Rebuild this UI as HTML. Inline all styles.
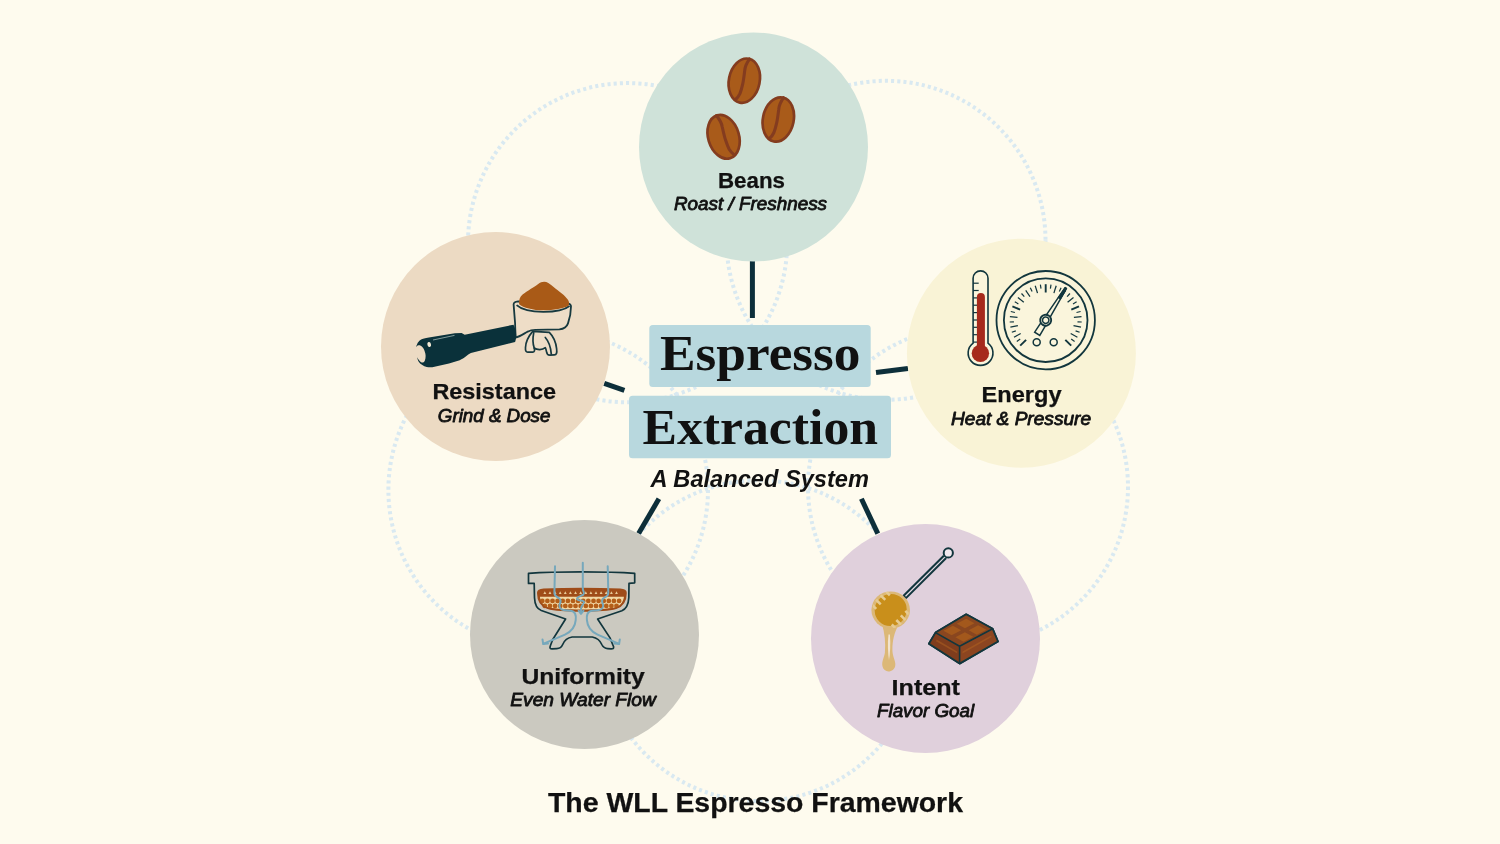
<!DOCTYPE html>
<html lang="en">
<head>
<meta charset="utf-8">
<title>The WLL Espresso Framework</title>
<style>
  html, body { margin: 0; padding: 0; background: #fefbee; }
  body { width: 1500px; height: 844px; overflow: hidden; font-family: "Liberation Sans", sans-serif; }
  svg { display: block; will-change: transform; }
  .sans { font-family: "Liberation Sans", sans-serif; }
  .serif { font-family: "Liberation Serif", serif; }
  .lbl { font-family: "Liberation Sans", sans-serif; font-weight: bold; fill: #111; stroke: #111; stroke-width: 0.25px; }
  .sub { font-family: "Liberation Sans", sans-serif; font-style: italic; fill: #111; stroke: #111; stroke-width: 0.8px; stroke-linejoin: round; }
</style>
</head>
<body>
<svg width="1500" height="844" viewBox="0 0 1500 844">
  <rect x="0" y="0" width="1500" height="844" fill="#fefbee"/>

  <!-- dotted background circles -->
  <g fill="none" stroke="#d9e9f1" stroke-width="4" stroke-dasharray="3.1 3.1">
    <circle cx="627.6" cy="242.7" r="159.6"/>
    <circle cx="886" cy="240.3" r="159.5"/>
    <circle cx="548.2" cy="490" r="159.8"/>
    <circle cx="968" cy="487" r="160"/>
    <circle cx="758.8" cy="640.7" r="160.4"/>
  </g>

  <!-- connectors -->
  <g stroke="#0d2f3a" stroke-width="5" stroke-linecap="butt" fill="none">
    <line x1="752.4" y1="258" x2="752.4" y2="318"/>
    <line x1="604.2" y1="383.3" x2="624.4" y2="390.4"/>
    <line x1="876" y1="372.4" x2="908" y2="368.5"/>
    <line x1="658.9" y1="498.8" x2="638.6" y2="533.6"/>
    <line x1="861.4" y1="498.8" x2="877.8" y2="533.6"/>
  </g>

  <!-- main circles -->
  <circle cx="753.5" cy="147" r="114.5" fill="#cfe2d9"/>
  <circle cx="495.5" cy="346.5" r="114.5" fill="#ecdac3"/>
  <circle cx="1021.4" cy="353.2" r="114.5" fill="#f9f3d6"/>
  <circle cx="584.5" cy="634.5" r="114.5" fill="#cbc9c0"/>
  <circle cx="925.5" cy="638.5" r="114.5" fill="#e0d0dc"/>

  <!-- title boxes -->
  <rect x="649.3" y="324.9" width="221.4" height="62.2" rx="3.5" fill="#b8d8de"/>
  <rect x="629" y="395.7" width="262" height="62.6" rx="3.5" fill="#b8d8de"/>
  <text class="serif" x="660" y="369.5" font-size="50" font-weight="bold" fill="#111" textLength="200.5" lengthAdjust="spacingAndGlyphs">Espresso</text>
  <text class="serif" x="642.5" y="444.2" font-size="50" font-weight="bold" fill="#111" textLength="235.5" lengthAdjust="spacingAndGlyphs">Extraction</text>
  <text class="sans" x="650.6" y="486.8" font-size="24.2" font-style="italic" font-weight="bold" fill="#111" textLength="218.4" lengthAdjust="spacingAndGlyphs">A Balanced System</text>

  <!-- ICONS -->
  <g id="icon-beans">
    <g transform="translate(744.3 80.7) rotate(11.5)">
      <ellipse cx="0" cy="0" rx="15.4" ry="22.4" fill="#a95b1a" stroke="#843c1f" stroke-width="2.7"/>
      <path d="M 0.8 -22.4 C -1.5 -17 -2 -13 -1.6 -10 C -1.2 -5 -0.8 0 -0.9 3.7 C -1 8 -1.2 11 -1.7 13.6 C -2.4 16.5 -3.5 18.5 -4.6 19.9" fill="none" stroke="#843c1f" stroke-width="3.1" stroke-linecap="round"/>
    </g>
    <g transform="translate(778.3 119.5) rotate(11.5)">
      <ellipse cx="0" cy="0" rx="15.4" ry="22.4" fill="#a95b1a" stroke="#843c1f" stroke-width="2.7"/>
      <path d="M 0.8 -22.4 C -1.5 -17 -2 -13 -1.6 -10 C -1.2 -5 -0.8 0 -0.9 3.7 C -1 8 -1.2 11 -1.7 13.6 C -2.4 16.5 -3.5 18.5 -4.6 19.9" fill="none" stroke="#843c1f" stroke-width="3.1" stroke-linecap="round"/>
    </g>
    <g transform="translate(723.6 136.8) rotate(-17)">
      <ellipse cx="0" cy="0" rx="15.4" ry="22.4" fill="#a95b1a" stroke="#843c1f" stroke-width="2.7"/>
      <path d="M -0.8 -22.4 C 1.5 -17 2 -13 1.6 -10 C 1.2 -5 0.8 0 0.9 3.7 C 1 8 1.2 11 1.7 13.6 C 2.4 16.5 3.5 18.5 4.6 19.9" fill="none" stroke="#843c1f" stroke-width="3.1" stroke-linecap="round"/>
    </g>
  </g>
  <g id="icon-portafilter">
    <path d="M 518.1 301.4 C515.1 301.7 513.6 302.7 513.6 304.4 L515.1 323.4 C515.1 327.4 515.6 333.4 515.6 337.5 C520.1 336.5 524.1 333.4 528.2 331.4 C530.2 330.2 532.2 329.9 535.2 329.9 L559.4 329.4 C564.4 328.9 567.0 326.4 568.0 323.4 C570.0 317.3 571.0 311.3 571.0 306.4 C571.0 305.0 570.0 304.2 568.5 303.7 Z" fill="#eeddc7" stroke="#17393f" stroke-width="1.8" stroke-linejoin="round"/>
    <path d="M 516.6 305.2 C521.1 309.3 531.2 311.8 543.3 311.8 C555.4 311.8 565.5 309.3 569.5 306.0" fill="none" stroke="#17393f" stroke-width="1.8"/>
    <path d="M 519.1 304.2 C518.6 300.2 520.1 296.7 522.6 294.6 C527.2 291.1 534.2 287.1 538.2 284.1 C541.3 281.5 545.3 281.0 548.3 283.1 C552.4 285.6 555.4 288.6 557.4 290.1 C561.4 293.1 566.5 297.2 568.5 300.7 C569.5 302.7 569.0 304.7 568.3 305.7 C564.4 308.2 553.4 310.3 543.3 310.3 C533.2 310.3 523.1 307.7 519.1 304.2 Z" fill="#a95a17"/>
    <g fill="#eeddc7" stroke="#17393f" stroke-width="1.7" stroke-linejoin="round" stroke-linecap="round">
      <path d="M 532.7 331.4 C529.2 335.5 525.7 341.5 525.5 347.5 C525.2 351.1 526.2 352.1 527.7 352.1 L532.7 352.1 C534.4 352.1 535.0 350.6 534.2 348.0 C537.2 350.1 542.3 350.1 545.3 347.7 C545.8 348.6 546.1 349.6 546.5 351.6 C546.8 353.6 547.8 355.1 549.8 355.1 L554.4 354.8 C556.4 354.8 557.2 353.1 556.6 348.6 C555.9 342.5 553.4 336.5 549.3 332.4 Z" />
      <path d="M 534.2 348.0 C533.0 344.5 532.4 339.5 533.7 332.9" fill="none"/>
      <path d="M 545.3 337.5 C548.8 341.5 550.8 347.5 551.3 354.1" fill="none"/>
    </g>
    <path d="M 513.5 324.7 L 464.7 334.7 L 461.6 332.9 L 454.8 333.2 L 428.9 337.5 C 425 338.2 422.5 338.8 421.1 339.5 C 419 340.8 417.8 342.5 417.2 343.9 C 416.6 345 416.2 346.2 416.0 347.3 C 416.8 346 417.6 345.5 418.4 345.3 C 420 345.2 421.3 345.8 422.3 347 C 423.6 348.4 424.4 350 424.8 351.7 C 425.4 353.2 425.7 354.8 425.6 356.2 C 425.6 357.8 425.4 359.3 424.8 360.7 C 424.3 361.7 423.5 362.4 422.5 362.6 C 421.3 362.4 420.3 361.7 419.5 360.7 C 418.5 359.7 417.7 358.6 417.1 357.3 C 417.3 358.8 417.8 360.1 418.4 361.2 C 419.4 362.8 420.7 364.1 422.3 365.1 C 423.6 366 425.1 366.7 426.7 367.1 C 428.5 367.4 430.4 367.4 432.3 367.3 L 449 363.4 L 459.7 360.2 C 464.7 358.3 467.2 354.6 470.9 353.1 L 515.1 341.9 C 517.0 337.2 516.3 329.7 513.5 324.7 Z" fill="#0a313a"/>
    <path d="M 433.0 340.0 L 454.5 335.4" stroke="#8fa6a4" stroke-width="0.9" fill="none"/>
    <ellipse cx="429.2" cy="344.5" rx="1.8" ry="2.5" fill="#f3ead6" transform="rotate(-15 429.2 344.5)"/>
  </g>
  <g id="icon-energy">
    <circle cx="1045.7" cy="320.2" r="49.2" fill="#faf4d9" stroke="#12363d" stroke-width="1.8"/>
    <circle cx="1045.7" cy="320.2" r="41.8" fill="#faf5dc" stroke="#12363d" stroke-width="1.8"/>
    <g stroke="#12363d" fill="none"><line x1="1026.1" y1="339.8" x2="1020.2" y2="345.7" stroke-width="1.9"/><line x1="1020.2" y1="339.1" x2="1016.8" y2="341.6" stroke-width="1.2"/><line x1="1020.7" y1="333.5" x2="1014.0" y2="337.2" stroke-width="1.25"/><line x1="1015.8" y1="330.9" x2="1011.8" y2="332.3" stroke-width="1.2"/><line x1="1017.9" y1="325.7" x2="1010.4" y2="327.2" stroke-width="1.25"/><line x1="1013.9" y1="321.8" x2="1009.7" y2="322.0" stroke-width="1.2"/><line x1="1017.5" y1="317.4" x2="1009.9" y2="316.7" stroke-width="1.25"/><line x1="1014.9" y1="312.5" x2="1010.8" y2="311.5" stroke-width="1.2"/><line x1="1020.1" y1="309.6" x2="1012.4" y2="306.4" stroke-width="1.9"/><line x1="1018.4" y1="303.9" x2="1014.8" y2="301.7" stroke-width="1.2"/><line x1="1023.8" y1="302.2" x2="1017.9" y2="297.4" stroke-width="1.25"/><line x1="1024.3" y1="296.6" x2="1021.5" y2="293.5" stroke-width="1.2"/><line x1="1030.0" y1="296.7" x2="1025.7" y2="290.3" stroke-width="1.25"/><line x1="1032.1" y1="291.5" x2="1030.3" y2="287.7" stroke-width="1.2"/><line x1="1037.5" y1="293.1" x2="1035.2" y2="285.8" stroke-width="1.25"/><line x1="1041.0" y1="288.7" x2="1040.4" y2="284.6" stroke-width="1.2"/><line x1="1045.7" y1="292.5" x2="1045.7" y2="284.2" stroke-width="1.9"/><line x1="1050.4" y1="288.7" x2="1051.0" y2="284.6" stroke-width="1.2"/><line x1="1053.9" y1="293.1" x2="1056.2" y2="285.8" stroke-width="1.25"/><line x1="1059.3" y1="291.5" x2="1061.1" y2="287.7" stroke-width="1.2"/><line x1="1061.4" y1="296.7" x2="1065.7" y2="290.3" stroke-width="1.25"/><line x1="1067.1" y1="296.6" x2="1069.9" y2="293.5" stroke-width="1.2"/><line x1="1067.6" y1="302.2" x2="1073.5" y2="297.4" stroke-width="1.25"/><line x1="1073.0" y1="303.9" x2="1076.6" y2="301.7" stroke-width="1.2"/><line x1="1071.3" y1="309.6" x2="1079.0" y2="306.4" stroke-width="1.9"/><line x1="1076.5" y1="312.5" x2="1080.6" y2="311.5" stroke-width="1.2"/><line x1="1073.9" y1="317.4" x2="1081.5" y2="316.7" stroke-width="1.25"/><line x1="1077.5" y1="321.8" x2="1081.7" y2="322.0" stroke-width="1.2"/><line x1="1073.5" y1="325.7" x2="1081.0" y2="327.2" stroke-width="1.25"/><line x1="1075.6" y1="330.9" x2="1079.6" y2="332.3" stroke-width="1.2"/><line x1="1070.7" y1="333.5" x2="1077.4" y2="337.2" stroke-width="1.25"/><line x1="1071.2" y1="339.1" x2="1074.6" y2="341.6" stroke-width="1.2"/><line x1="1065.3" y1="339.8" x2="1071.2" y2="345.7" stroke-width="1.9"/></g>
    <circle cx="1036.7" cy="342.3" r="3.5" fill="#faf5dc" stroke="#12363d" stroke-width="1.5"/>
    <circle cx="1053.7" cy="342.3" r="3.5" fill="#faf5dc" stroke="#12363d" stroke-width="1.5"/>
    <g transform="translate(1045.7 320.2) rotate(32.0)">
      <path d="M -2.6 0 L 2.6 0 L 3 16.0 L -3 16.0 Z" fill="#faf5dc" stroke="#12363d" stroke-width="1.5" stroke-linejoin="miter"/>
      <path d="M -2.4 0 L -0.8 -37.9 L 0.8 -37.9 L 2.4 0 Z" fill="#faf5dc" stroke="#12363d" stroke-width="1.5" stroke-linejoin="round"/>
      <path d="M -1.3 -25.8 L -0.8 -37.9 L 0.8 -37.9 L 1.3 -25.8 Z" fill="#12363d" stroke="#12363d" stroke-width="1"/>
      <circle cx="0" cy="0" r="5.5" fill="#faf5dc" stroke="#12363d" stroke-width="1.9"/>
      <circle cx="0" cy="0" r="3.2" fill="#faf5dc" stroke="#12363d" stroke-width="1.5"/>
    </g>
    <path d="M 973.1 343.1 L 973.1 278.3 A 7.4 7.4 0 0 1 988.0 278.3 L 988.0 343.1 A 12.4 12.4 0 1 1 973.1 343.1 Z" fill="#faf5dc" stroke="#12363d" stroke-width="1.6"/>
    <g stroke="#12363d" stroke-width="1.2"><line x1="973.0" y1="283.2" x2="978.7" y2="283.2"/><line x1="973.0" y1="290.5" x2="978.7" y2="290.5"/><line x1="973.0" y1="297.9" x2="978.7" y2="297.9"/><line x1="973.0" y1="305.2" x2="978.7" y2="305.2"/><line x1="973.0" y1="312.6" x2="978.7" y2="312.6"/><line x1="973.0" y1="320.0" x2="978.7" y2="320.0"/><line x1="973.0" y1="327.3" x2="978.7" y2="327.3"/><line x1="973.0" y1="334.7" x2="978.7" y2="334.7"/><line x1="973.0" y1="342.1" x2="978.7" y2="342.1"/></g>
    <path d="M 976.9 353.0 L 976.9 297.1 A 4.0 4.0 0 0 1 984.9 297.1 L 984.9 353.0 Z" fill="#a62a1c"/>
    <circle cx="980.4" cy="353.3" r="8.7" fill="#a62a1c"/>
  </g>
  <g id="icon-basket">
    <path d="M 537.8 592.9 C537.8 590.5 539.5 589.6 543.7 589.4 C567.4 588.2 595.8 588.2 620.1 589.4 C624.3 589.6 626.0 590.5 626.0 592.9 C626.0 600.0 623.1 605.9 616.0 608.3 C602.9 611.9 560.3 611.9 547.8 608.3 C540.7 605.9 537.8 600.0 537.8 592.9 Z" fill="#9f4c19"/>
    <path d="M 539.9 596.7 L624.0 596.7 C623.1 602.4 620.1 605.9 614.8 607.6 C602.9 610.2 560.3 610.2 549.0 607.6 C543.7 605.9 540.7 602.4 539.9 596.7 Z" fill="#f1d8a6"/>
    <g fill="#b45e18"><circle cx="542.3" cy="600.9" r="2.4"/><circle cx="547.4" cy="600.9" r="2.4"/><circle cx="552.5" cy="600.9" r="2.4"/><circle cx="557.6" cy="600.9" r="2.4"/><circle cx="562.7" cy="600.9" r="2.4"/><circle cx="567.9" cy="600.9" r="2.4"/><circle cx="573.0" cy="600.9" r="2.4"/><circle cx="578.1" cy="600.9" r="2.4"/><circle cx="583.2" cy="600.9" r="2.4"/><circle cx="588.3" cy="600.9" r="2.4"/><circle cx="593.5" cy="600.9" r="2.4"/><circle cx="598.6" cy="600.9" r="2.4"/><circle cx="603.7" cy="600.9" r="2.4"/><circle cx="608.8" cy="600.9" r="2.4"/><circle cx="613.9" cy="600.9" r="2.4"/><circle cx="619.1" cy="600.9" r="2.4"/><circle cx="544.8" cy="605.9" r="2.4"/><circle cx="550.0" cy="605.9" r="2.4"/><circle cx="555.1" cy="605.9" r="2.4"/><circle cx="560.2" cy="605.9" r="2.4"/><circle cx="565.3" cy="605.9" r="2.4"/><circle cx="570.4" cy="605.9" r="2.4"/><circle cx="575.5" cy="605.9" r="2.4"/><circle cx="580.7" cy="605.9" r="2.4"/><circle cx="585.8" cy="605.9" r="2.4"/><circle cx="590.9" cy="605.9" r="2.4"/><circle cx="596.0" cy="605.9" r="2.4"/><circle cx="601.1" cy="605.9" r="2.4"/><circle cx="606.3" cy="605.9" r="2.4"/><circle cx="611.4" cy="605.9" r="2.4"/><circle cx="616.5" cy="605.9" r="2.4"/></g>
    <path d="M 537.8 592.9 C537.8 590.5 539.5 589.6 543.7 589.4 C567.4 588.2 595.8 588.2 620.1 589.4 C624.3 589.6 626.0 590.5 626.0 592.9 C626.0 600.0 623.1 605.9 616.0 608.3 C602.9 611.9 560.3 611.9 547.8 608.3 C540.7 605.9 537.8 600.0 537.8 592.9 Z" fill="none" stroke="#9f4c19" stroke-width="1.6"/>
    <g fill="#f1d8a6" opacity="0.9"><path d="M 543.4 593.9 L 544.8 591.3 L 546.3 593.9 Z"/><path d="M 548.5 593.9 L 550.0 591.3 L 551.4 593.9 Z"/><path d="M 553.6 593.9 L 555.1 591.3 L 556.5 593.9 Z"/><path d="M 558.8 593.9 L 560.2 591.3 L 561.6 593.9 Z"/><path d="M 563.9 593.9 L 565.3 591.3 L 566.7 593.9 Z"/><path d="M 569.0 593.9 L 570.4 591.3 L 571.8 593.9 Z"/><path d="M 574.1 593.9 L 575.5 591.3 L 577.0 593.9 Z"/><path d="M 579.2 593.9 L 580.7 591.3 L 582.1 593.9 Z"/><path d="M 584.4 593.9 L 585.8 591.3 L 587.2 593.9 Z"/><path d="M 589.5 593.9 L 590.9 591.3 L 592.3 593.9 Z"/><path d="M 594.6 593.9 L 596.0 591.3 L 597.4 593.9 Z"/><path d="M 599.7 593.9 L 601.1 591.3 L 602.6 593.9 Z"/><path d="M 604.8 593.9 L 606.3 591.3 L 607.7 593.9 Z"/><path d="M 610.0 593.9 L 611.4 591.3 L 612.8 593.9 Z"/><path d="M 615.1 593.9 L 616.5 591.3 L 617.9 593.9 Z"/></g>
    <path d="M 528.5 573.4 C555.5 571.4 607.7 571.4 634.7 573.4 L634.7 582.8 L629.0 583.4 L628.8 597.7 C628.4 604.8 626.0 608.9 621.9 610.7 L597.6 619.0 L610.0 637.9 L613.6 646.8 C613.8 648.6 613.0 648.8 611.2 648.8 L607.7 648.6 C604.7 648.4 602.9 646.8 601.8 644.5 C600.0 640.3 597.0 637.9 592.3 637.0 L572.1 637.0 C567.4 637.7 564.4 640.3 562.7 644.5 C561.5 647.4 559.7 648.6 556.7 648.6 L552.0 648.8 C550.2 648.8 549.6 648.0 550.2 646.2 L552.6 639.7 L565.6 619.0 L541.3 610.5 C537.2 608.9 534.8 604.8 534.5 597.7 L534.2 583.4 L528.5 583.4 Z" fill="none" stroke="#12363d" stroke-width="1.7" stroke-linejoin="round"/>
    <path d="M 555.0 566.3 L554.4 592.9 C554.4 595.9 556.7 596.7 559.1 598.2 C561.5 600.0 560.9 601.8 559.7 604.2 C558.5 607.1 560.3 609.7 565.0 610.2 L570.9 610.7 C575.1 611.3 576.3 615.4 575.7 620.2 C575.1 627.3 570.9 632.0 565.0 634.6 L543.7 643.6" fill="none" stroke="#76a8bc" stroke-width="2" stroke-linecap="round" stroke-linejoin="round"/>
    <path d="M 582.8 562.7 L582.8 588.8 C583.0 591.7 585.2 592.7 583.4 594.7 C580.4 596.5 576.3 596.5 577.1 599.1 C578.1 601.4 584.6 599.8 584.0 602.4 C583.4 604.8 581.4 605.4 581.1 608.3 L581.0 613.3" fill="none" stroke="#76a8bc" stroke-width="2" stroke-linecap="round" stroke-linejoin="round"/>
    <path d="M 607.7 566.3 L608.3 592.9 C608.3 595.9 605.9 596.7 603.5 598.2 C601.2 600.0 601.8 601.8 602.9 604.2 C604.1 607.1 602.3 609.7 597.6 610.2 L591.7 610.7 C587.5 611.3 586.4 615.4 586.9 620.2 C587.5 627.3 591.7 632.0 597.6 634.6 L618.6 643.6" fill="none" stroke="#76a8bc" stroke-width="2" stroke-linecap="round" stroke-linejoin="round"/>
    <path d="M 542.5 639.4 L543.2 644.1 L548.0 643.6" fill="none" stroke="#76a8bc" stroke-width="2" stroke-linecap="round" stroke-linejoin="round"/>
    <path d="M 619.8 639.4 L619.1 644.1 L614.3 643.6" fill="none" stroke="#76a8bc" stroke-width="2" stroke-linecap="round" stroke-linejoin="round"/>
    <path d="M 578.6 610.7 L581.0 613.8 L583.5 610.7" fill="none" stroke="#76a8bc" stroke-width="2" stroke-linecap="round" stroke-linejoin="round"/>
  </g>
  <g id="icon-intent">
    <path d="M 881.6 623.0 C884.9 632.9 885.7 642.9 884.9 652.8 C884.1 657.8 881.6 661.1 882.4 666.1 C883.2 670.2 886.5 671.9 889.5 671.4 C893.2 671.1 895.7 667.8 895.3 663.6 C894.8 658.6 892.4 656.1 892.4 649.5 C892.4 641.2 894.0 632.9 899.0 623.8 Z" fill="#dcb877"/>
    <path d="M 888.5 634.6 C887.4 642.9 887.9 652.8 889.0 660.3 C890.2 652.8 890.7 642.9 889.9 634.6 Z" fill="#f2e3cf"/>
    <ellipse cx="890.7" cy="610.0" rx="19.3" ry="18.6" fill="#dcb877"/>
    <clipPath id="hc"><circle cx="0" cy="0" r="18.4"/></clipPath><g transform="translate(890.7 610.0) rotate(-45)" clip-path="url(#hc)"><ellipse cx="0" cy="0" rx="16.2" ry="15.8" fill="#c98f1b"/><rect x="-10.8" y="-17.6" width="2.6" height="6.6" fill="#e6cb92"/><rect x="-10.8" y="11.0" width="2.6" height="6.6" fill="#e6cb92"/><rect x="-4.4" y="-17.6" width="2.6" height="6.6" fill="#e6cb92"/><rect x="-4.4" y="11.0" width="2.6" height="6.6" fill="#e6cb92"/><rect x="2.0" y="-17.6" width="2.6" height="6.6" fill="#e6cb92"/><rect x="2.0" y="11.0" width="2.6" height="6.6" fill="#e6cb92"/><rect x="8.4" y="-17.6" width="2.6" height="6.6" fill="#e6cb92"/><rect x="8.4" y="11.0" width="2.6" height="6.6" fill="#e6cb92"/></g>
    <line x1="904.5" y1="597.2" x2="945.0" y2="556.9" stroke="#12363d" stroke-width="5.4" stroke-linecap="butt"/>
    <line x1="905.5" y1="596.2" x2="945.0" y2="556.9" stroke="#e6dce4" stroke-width="1.2"/>
    <circle cx="948.3" cy="552.9" r="4.6" fill="#f1e9ee" stroke="#12363d" stroke-width="2"/>
    <path d="M 966.2 614.3 L992.7 628.8 L998.0 641.5 L959.6 663.6 L928.9 643.7 L935.5 632.6 Z" fill="#823f1e" stroke="#12363d" stroke-width="1.8" stroke-linejoin="round"/>
    <path d="M 992.7 628.8 L998.0 641.5 L959.6 663.6 L959.6 646.2 Z" fill="#8c4520"/>
    <path d="M 935.5 632.6 L959.6 646.2 L959.6 663.6 L928.9 643.7 Z" fill="#7f3d1d"/>
    <path d="M 966.2 614.3 L992.7 628.8 L959.6 646.2 L935.5 632.6 Z" fill="#89461f"/>
    <path d="M 966.2 618.8 L974.5 623.3 L964.9 628.3 L956.7 623.8 Z" fill="#a3581c"/>
    <path d="M 978.1 625.3 L986.4 629.8 L976.8 634.7 L968.7 630.3 Z" fill="#a3581c"/>
    <path d="M 952.9 625.8 L961.2 630.3 L951.6 635.2 L943.5 630.8 Z" fill="#a3581c"/>
    <path d="M 964.9 632.3 L973.2 636.7 L963.5 641.7 L955.4 637.2 Z" fill="#a3581c"/>
    <path d="M 936.7 639.6 L957.1 651.5 L957.1 653.2 L936.0 641.2 Z" fill="#98501f"/>
    <path d="M 962.5 651.5 L991.1 635.4 L991.6 637.1 L962.5 653.5 Z" fill="#9f5420"/>
    <path d="M 935.5 632.6 L959.6 646.2 L992.7 628.8 M959.6 646.2 L959.6 663.6" fill="none" stroke="#12363d" stroke-width="1.6" stroke-linejoin="round"/>
    <path d="M 966.2 614.3 L992.7 628.8 L998.0 641.5 L959.6 663.6 L928.9 643.7 L935.5 632.6 Z" fill="none" stroke="#12363d" stroke-width="1.8" stroke-linejoin="round"/>
  </g>

  <!-- labels -->
  <text class="lbl" x="718" y="187.5" font-size="21.4" textLength="67" lengthAdjust="spacingAndGlyphs">Beans</text>
  <text class="sub" x="674" y="209.8" font-size="17.8" textLength="153" lengthAdjust="spacingAndGlyphs">Roast / Freshness</text>

  <text class="lbl" x="432.4" y="399.3" font-size="21.4" textLength="123.6" lengthAdjust="spacingAndGlyphs">Resistance</text>
  <text class="sub" x="437.8" y="421.5" font-size="17.8" textLength="112.6" lengthAdjust="spacingAndGlyphs">Grind &amp; Dose</text>

  <text class="lbl" x="981.6" y="402" font-size="21.4" textLength="80" lengthAdjust="spacingAndGlyphs">Energy</text>
  <text class="sub" x="951" y="424.7" font-size="17.8" textLength="140" lengthAdjust="spacingAndGlyphs">Heat &amp; Pressure</text>

  <text class="lbl" x="521.4" y="683.6" font-size="21.4" textLength="123.4" lengthAdjust="spacingAndGlyphs">Uniformity</text>
  <text class="sub" x="510.3" y="705.9" font-size="17.8" textLength="145.5" lengthAdjust="spacingAndGlyphs">Even Water Flow</text>

  <text class="lbl" x="891.6" y="694.5" font-size="21.4" textLength="68.4" lengthAdjust="spacingAndGlyphs">Intent</text>
  <text class="sub" x="877" y="716.6" font-size="17.8" textLength="97.2" lengthAdjust="spacingAndGlyphs">Flavor Goal</text>

  <text class="lbl" x="548" y="812.4" font-size="27.5" textLength="415" lengthAdjust="spacingAndGlyphs">The WLL Espresso Framework</text>
</svg>
</body>
</html>
